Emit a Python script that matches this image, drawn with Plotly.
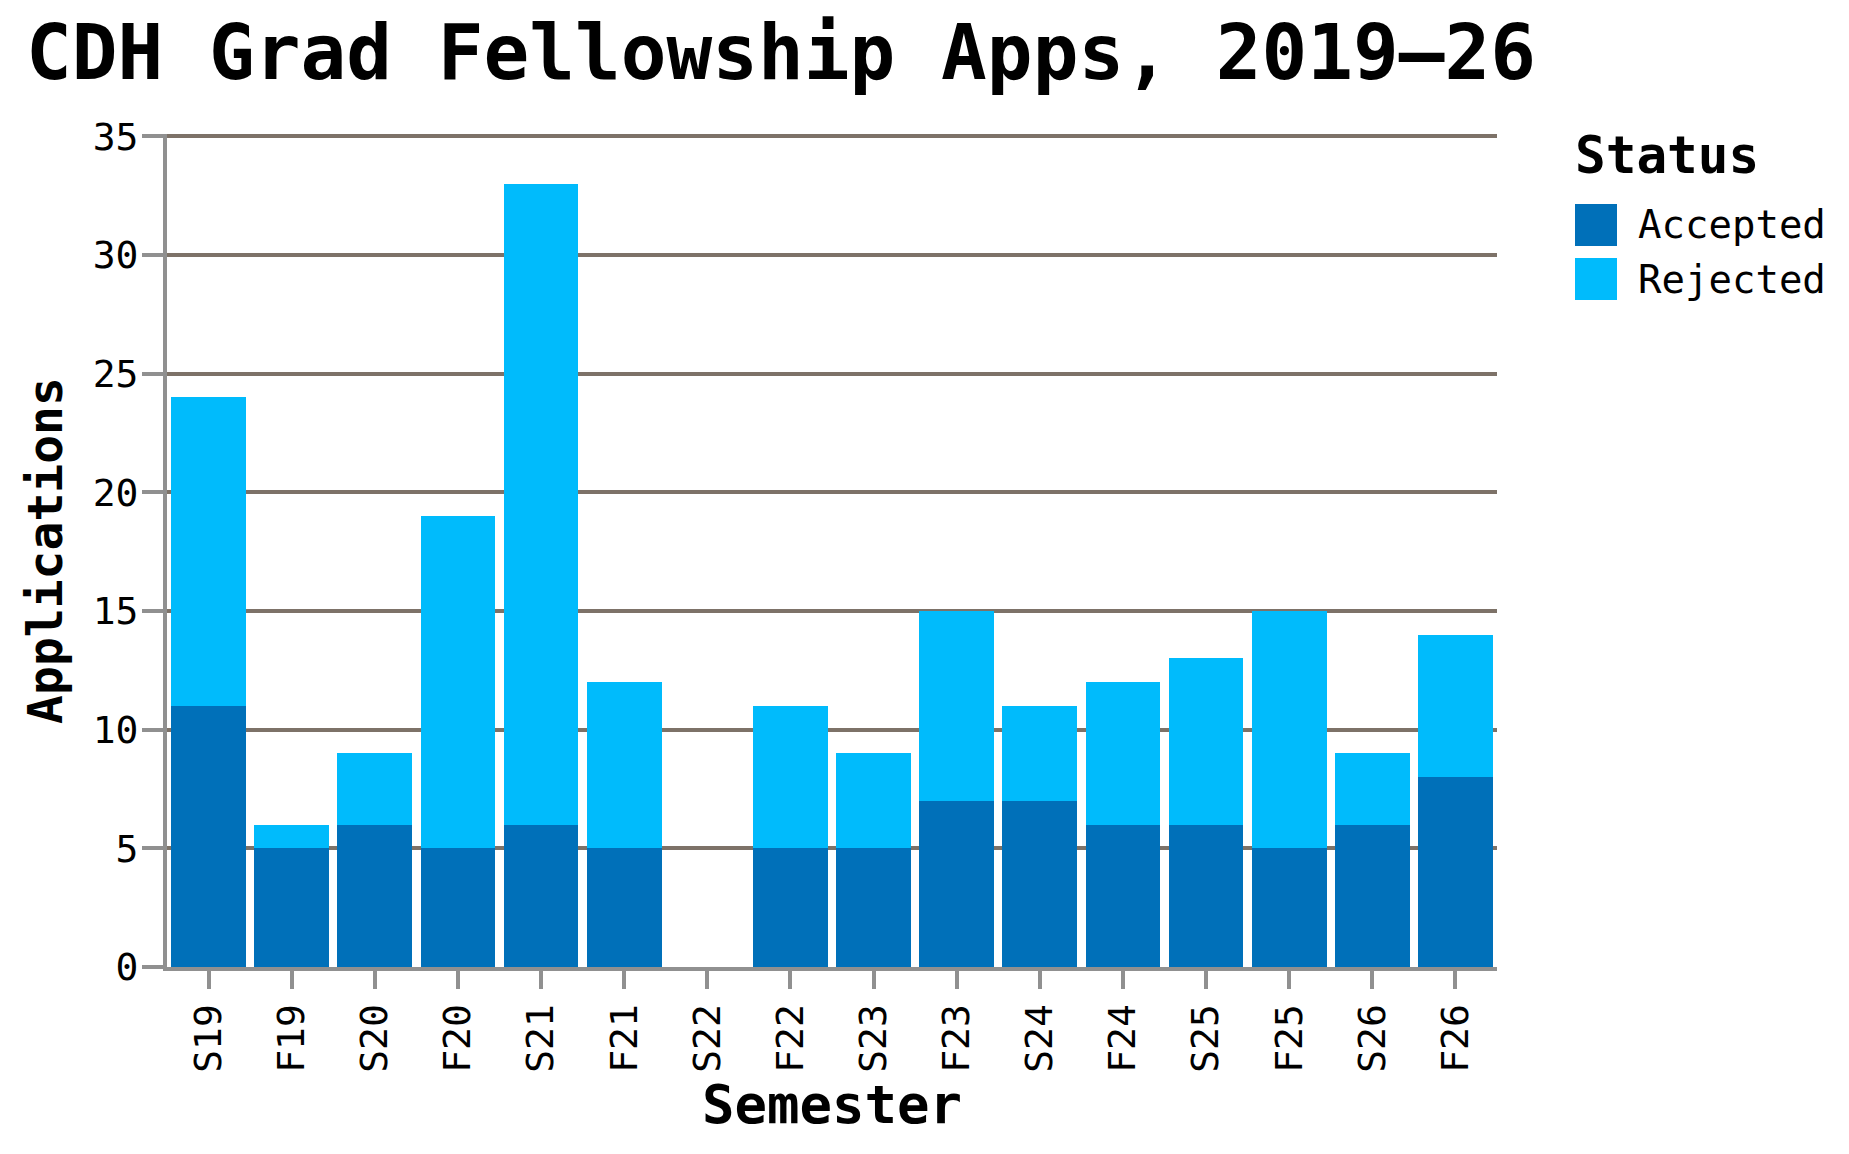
import plotly.graph_objects as go

# data
semesters = ["S19", "F19", "S20", "F20", "S21", "F21", "S22", "F22",
             "S23", "F23", "S24", "F24", "S25", "F25", "S26", "F26"]
accepted = [11, 5, 6, 5, 6, 5, 0, 5, 5, 7, 7, 6, 6, 5, 6, 8]
rejected = [13, 1, 3, 14, 27, 7, 0, 6, 4, 8, 4, 6, 7, 10, 3, 6]
statuses = ["Accepted", "Rejected"]
colors = ["#0070b9", "#00bbfc"]

# the page body has an 8px margin, so the figure is drawn a bit smaller
OFF = 8
W, H = 1849 - 2 * OFF, 1154 - 2 * OFF
# plot area in screenshot pixels, moved into figure pixels
L, R, T, B = 167 - OFF, 1497 - OFF, 134 - OFF, 967 - OFF

MONO = "DejaVu Sans Mono"


def px_x(x):
    return (x - OFF - L) / (R - L)


def px_y(y):
    return (B - (y - OFF)) / (B - T)


fig = go.Figure()
for name, vals, col in zip(statuses, [accepted, rejected], colors):
    fig.add_trace(
        go.Bar(
            x=semesters,
            y=vals,
            name=name,
            marker=dict(color=col, line=dict(width=0)),
            showlegend=False,
        )
    )

# hand-made legend so the swatches can be large
fig.add_annotation(
    x=px_x(1573), y=px_y(155), xref="paper", yref="paper",
    text="<b>Status</b>", showarrow=False, xanchor="left", yanchor="middle",
    font=dict(family=MONO, size=51, color="black"),
)
for i, (name, col) in enumerate(zip(statuses, colors)):
    top = 204 + i * 54
    fig.add_shape(
        type="rect", xref="paper", yref="paper",
        x0=px_x(1575), x1=px_x(1617), y0=px_y(top), y1=px_y(top + 42),
        fillcolor=col, line=dict(width=0),
    )
    fig.add_annotation(
        x=px_x(1636), y=px_y(top + 21), xref="paper", yref="paper",
        text=name, showarrow=False, xanchor="left", yanchor="middle",
        font=dict(family=MONO, size=39, color="black"),
    )

fig.update_layout(
    width=W,
    height=H,
    barmode="stack",
    bargap=0.1,
    plot_bgcolor="white",
    paper_bgcolor="white",
    margin=dict(l=L, r=W - R, t=T, b=H - B, pad=0),
    title=dict(
        text="<b>CDH Grad Fellowship Apps, 2019–26</b>",
        x=18 / W, xanchor="left", xref="container",
        y=1 - 18 / H, yanchor="top", yref="container",
        font=dict(family=MONO, size=76, color="black"),
    ),
    font=dict(family=MONO, color="black"),
)

fig.update_xaxes(
    type="category",
    categoryorder="array",
    categoryarray=semesters,
    tickangle=-90,
    tickfont=dict(family=MONO, size=38, color="black"),
    ticks="outside",
    ticklen=18,
    tickwidth=4,
    tickcolor="#909090",
    showline=True,
    linecolor="#909090",
    linewidth=4,
    showgrid=False,
    ticklabelstandoff=0,
    title=dict(text="<b>Semester</b>", font=dict(family=MONO, size=54), standoff=12),
)

fig.update_yaxes(
    range=[0, 35.1],
    tickvals=[0, 5, 10, 15, 20, 25, 30, 35],
    tickfont=dict(family=MONO, size=38, color="black"),
    ticks="outside",
    ticklen=21,
    tickwidth=4,
    tickcolor="#909090",
    showline=True,
    linecolor="#909090",
    linewidth=4,
    showgrid=True,
    gridcolor="#7d7268",
    gridwidth=4,
    zeroline=False,
    ticklabelstandoff=-4,
    title=dict(text="<b>Applications</b>", font=dict(family=MONO, size=48), standoff=16),
)

fig.write_html("out.html")
